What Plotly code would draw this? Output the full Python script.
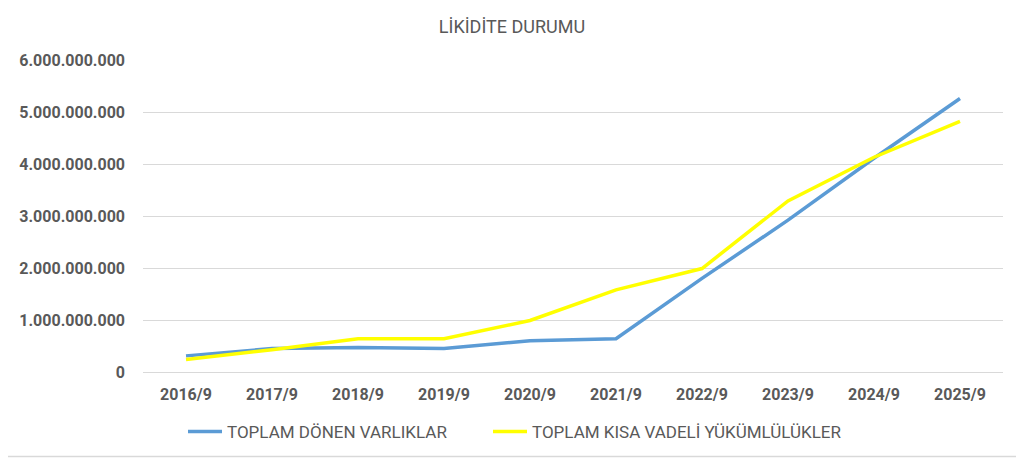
import plotly.graph_objects as go

# periods on the x axis
periods = ["2016/9", "2017/9", "2018/9", "2019/9", "2020/9",
           "2021/9", "2022/9", "2023/9", "2024/9", "2025/9"]

# values (TL)
donen_varliklar = [310_000_000, 450_000_000, 470_000_000, 450_000_000, 600_000_000,
                   640_000_000, 1_800_000_000, 2_920_000_000, 4_110_000_000, 5_260_000_000]
kisa_vadeli_yuk = [240_000_000, 430_000_000, 640_000_000, 640_000_000, 990_000_000,
                   1_580_000_000, 1_990_000_000, 3_290_000_000, 4_130_000_000, 4_820_000_000]

y_ticks = [0, 1_000_000_000, 2_000_000_000, 3_000_000_000,
           4_000_000_000, 5_000_000_000, 6_000_000_000]

# the page body has an 8px default margin, so the figure is shrunk by that much
OFF = 8
W, H = 1024 - OFF, 458 - OFF
ML, MT = 143 - OFF, 60 - OFF
MR = W - (1003 - OFF)
MB = H - (372 - OFF)
TEXT = "#595959"
FONT = "Roboto"

fig = go.Figure()
fig.add_trace(go.Scatter(
    x=periods, y=donen_varliklar, mode="lines",
    name="TOPLAM DÖNEN VARLIKLAR",
    line=dict(color="#5B9BD5", width=3.5),
    legend="legend",
))
fig.add_trace(go.Scatter(
    x=periods, y=kisa_vadeli_yuk, mode="lines",
    name="TOPLAM KISA VADELİ YÜKÜMLÜLÜKLER",
    line=dict(color="#FFFF00", width=3.5),
    legend="legend2",
))

# light frame around the whole chart, like the Excel chart border
pw, ph = W - ML - MR, H - MT - MB
fig.add_shape(
    type="rect", xref="paper", yref="paper",
    x0=(-OFF - 2 - ML) / pw, x1=(1019 - OFF - ML) / pw,
    y0=(H - MB - (456.5 - OFF)) / ph, y1=(H - MB + OFF + 2) / ph,
    line=dict(color="#D9D9D9", width=1.5), fillcolor="rgba(0,0,0,0)", layer="below",
)

legend_style = dict(orientation="h", xanchor="left", xref="container",
                    yref="container", y=1 - (432 - OFF) / H, yanchor="middle",
                    font=dict(family=FONT, size=17, color=TEXT),
                    itemwidth=34, tracegroupgap=0, bgcolor="rgba(0,0,0,0)")

fig.update_layout(
    width=W, height=H,
    margin=dict(l=ML, r=MR, t=MT, b=MB, autoexpand=False),
    paper_bgcolor="white", plot_bgcolor="white",
    separators=",.",
    font=dict(family=FONT, color=TEXT, size=14),
    title=dict(text="LİKİDİTE DURUMU", xref="container", x=(512 - OFF) / W, xanchor="center",
               yref="container", y=1 - (27 - OFF) / H, yanchor="middle",
               font=dict(family=FONT, size=18, color=TEXT)),
    showlegend=True,
    legend=dict(x=(183 - OFF) / W, **legend_style),
    legend2=dict(x=(488 - OFF) / W, **legend_style),
    hovermode=False,
)

fig.update_xaxes(
    type="category", range=[-0.5, 9.5],
    showgrid=False, showline=False, zeroline=False, ticks="",
    ticklabelstandoff=11,
    tickfont=dict(family=FONT, size=16, color=TEXT, weight="bold"),
)
fig.update_yaxes(
    range=[0, 6_000_000_000], tickvals=y_ticks, tickformat=",d",
    showgrid=True, gridcolor="#D9D9D9", gridwidth=1,
    zeroline=True, zerolinecolor="#D9D9D9", zerolinewidth=1,
    showline=False, ticks="", ticklabelstandoff=17,
    tickfont=dict(family=FONT, size=16, color=TEXT, weight="bold"),
)

fig.write_html("out.html")
